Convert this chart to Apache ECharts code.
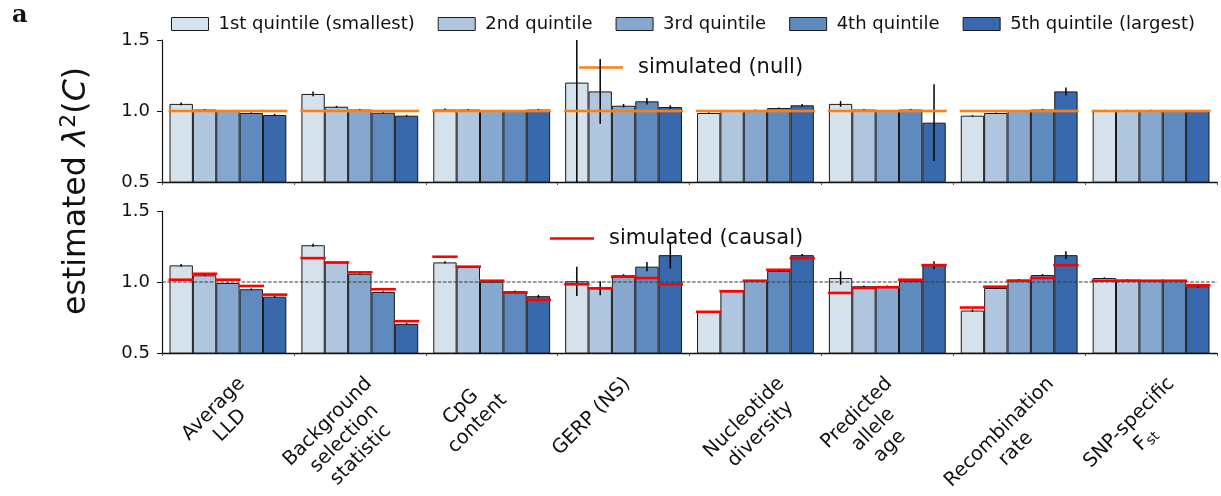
<!DOCTYPE html>
<html>
<head>
<meta charset="utf-8">
<script src="https://cdn.jsdelivr.net/npm/echarts@6/dist/echarts.min.js"></script>
<style>
  html, body { margin: 0; padding: 0; background: #fff; }
  #chart { width: 1221px; height: 496px; }
</style>
</head>
<body>
<div id="chart"></div>
<script>
// ---- data -------------------------------------------------------------
const categories = [
  'Average\nLLD',
  'Background\nselection\nstatistic',
  'CpG\ncontent',
  'GERP (NS)',
  'Nucleotide\ndiversity',
  'Predicted\nallele\nage',
  'Recombination\nrate',
  'SNP-specific\nF{sub|st}'
];
const quintileNames = [
  '1st quintile (smallest)',
  '2nd quintile',
  '3rd quintile',
  '4th quintile',
  '5th quintile (largest)'
];
const yTicks = [0.5, 1.0, 1.5];

// upper panel: estimates under the null, one row per quintile
const nullEstimate = [
  [1.050, 1.120, 1.010, 1.200, 0.986, 1.050, 0.967, 1.005],
  [1.010, 1.030, 1.010, 1.138, 1.000, 1.010, 0.986, 1.005],
  [1.000, 1.010, 1.000, 1.037, 1.007, 1.000, 1.000, 1.005],
  [0.986, 0.988, 1.000, 1.068, 1.021, 1.010, 1.010, 1.000],
  [0.972, 0.967, 1.010, 1.028, 1.040, 0.918, 1.138, 1.000]
];
const nullError = [
  [0.010, 0.017, 0.008, 0.750, 0.005, 0.020, 0.005, 0.004],
  [0.004, 0.006, 0.004, 0.228, 0.003, 0.004, 0.004, 0.004],
  [0.003, 0.004, 0.004, 0.012, 0.004, 0.004, 0.004, 0.004],
  [0.005, 0.004, 0.004, 0.023, 0.004, 0.005, 0.005, 0.004],
  [0.008, 0.006, 0.005, 0.012, 0.010, 0.270, 0.028, 0.006]
];
const nullSimulated = [
  [1.0, 1.0, 1.0, 1.0, 1.0, 1.0, 1.0, 1.0],
  [1.0, 1.0, 1.0, 1.0, 1.0, 1.0, 1.0, 1.0],
  [1.0, 1.0, 1.0, 1.0, 1.0, 1.0, 1.0, 1.0],
  [1.0, 1.0, 1.0, 1.0, 1.0, 1.0, 1.0, 1.0],
  [1.0, 1.0, 1.0, 1.0, 1.0, 1.0, 1.0, 1.0]
];

// lower panel: estimates under the causal model
const causalEstimate = [
  [1.117, 1.259, 1.138, 1.005, 0.790, 1.028, 0.799, 1.028],
  [1.047, 1.138, 1.105, 0.956, 0.935, 0.970, 0.958, 1.016],
  [0.993, 1.058, 1.002, 1.047, 1.009, 0.970, 1.016, 1.009],
  [0.949, 0.930, 0.935, 1.108, 1.079, 1.009, 1.049, 1.007],
  [0.897, 0.705, 0.900, 1.189, 1.189, 1.119, 1.189, 0.970]
];
const causalError = [
  [0.010, 0.010, 0.008, 0.103, 0.005, 0.047, 0.008, 0.005],
  [0.004, 0.004, 0.004, 0.050, 0.004, 0.005, 0.006, 0.004],
  [0.004, 0.004, 0.004, 0.008, 0.004, 0.005, 0.006, 0.004],
  [0.006, 0.005, 0.005, 0.032, 0.006, 0.005, 0.007, 0.004],
  [0.008, 0.008, 0.010, 0.094, 0.008, 0.028, 0.027, 0.008]
];
const causalSimulated = [
  [1.016, 1.168, 1.178, 0.984, 0.790, 0.923, 0.820, 1.009],
  [1.058, 1.138, 1.108, 0.956, 0.935, 0.958, 0.967, 1.009],
  [1.016, 1.068, 1.009, 1.037, 1.009, 0.963, 1.009, 1.009],
  [0.972, 0.949, 0.925, 1.028, 1.086, 1.016, 1.028, 1.009],
  [0.911, 0.724, 0.874, 0.984, 1.168, 1.119, 1.119, 0.977]
];

// ---- style ------------------------------------------------------------
const FONT = 'DejaVu Sans';
const quintileColors = ['#d5e2ec', '#b0c6de', '#86a8ce', '#5f8abe', '#3869ac'];
const NULL_COLOR = '#ff7f0e';
const CAUSAL_COLOR = '#ff0000';
const GAP = 0.114;           // fraction of each category left empty
const Y_MIN = yTicks[0], Y_MAX = yTicks[yTicks.length - 1];
// horizontal nudges of the rotated category labels (px from group centre)
const labelNudge = [-6, -15.5, -22.5, -32, -3, -14, -11.5, -13.5];
const LABEL_FONT_SIZE = 19.5;
const LABEL_TOP = 372.5;
const LABEL_LINE = 23.4;

const chart = echarts.init(document.getElementById('chart'), null, { renderer: 'canvas' });

function barGeom(api, cat, k) {
  const cx = api.coord([cat, Y_MIN])[0];
  const band = api.size([1, 0])[0];
  const bw = band * (1 - GAP) / quintileNames.length;
  const left = cx - bw * quintileNames.length / 2 + k * bw;
  return { left, bw };
}
const clampY = v => Math.min(Y_MAX, Math.max(Y_MIN, v));

function errRows(est, err) {
  const rows = [];
  est.forEach((arr, k) => arr.forEach((v, i) => rows.push([i, v, err[k][i], k])));
  return rows;
}
function simRows(sim) {
  const rows = [];
  sim.forEach((arr, k) => arr.forEach((v, i) => rows.push([i, v, k])));
  return rows;
}
function renderErr(params, api) {
  const cat = api.value(0), v = api.value(1), e = api.value(2), k = api.value(3);
  const g = barGeom(api, cat, k);
  const x = g.left + g.bw / 2;
  const y1 = api.coord([cat, clampY(v - e)])[1];
  const y2 = api.coord([cat, clampY(v + e)])[1];
  return { type: 'line', shape: { x1: x, y1, x2: x, y2 },
           style: { stroke: '#000', lineWidth: 1.5 } };
}
function makeSimRenderer(color) {
  return function (params, api) {
    const cat = api.value(0), v = api.value(1), k = api.value(2);
    const g = barGeom(api, cat, k);
    const y = api.coord([cat, v])[1];
    return { type: 'line', shape: { x1: g.left - 1, y1: y, x2: g.left + g.bw + 1, y2: y },
             style: { stroke: color, lineWidth: 2.6 } };
  };
}
function renderRefLine(params, api) {
  const cs = params.coordSys;
  const y = api.coord([0, 1.0])[1];
  return { type: 'line', shape: { x1: cs.x, y1: y, x2: cs.x + cs.width, y2: y },
           style: { stroke: '#3a3a3a', lineWidth: 1, lineDash: [3.7, 1.6] } };
}

const grids = [
  { left: 162, top: 40, width: 1055, height: 142 },
  { left: 162, top: 211, width: 1055, height: 142 }
];
const xAxes = grids.map((g, gi) => ({
  type: 'category', gridIndex: gi, data: categories, boundaryGap: true,
  axisLine: { show: true, lineStyle: { color: '#111', width: 1.4 } },
  axisTick: { show: true, length: 3, alignWithLabel: false, lineStyle: { color: '#333', width: 0.8 } },
  axisLabel: { show: false },
  splitLine: { show: false }
}));
const yAxes = grids.map((g, gi) => ({
  type: 'value', gridIndex: gi, min: Y_MIN, max: Y_MAX, interval: 0.5,
  axisLine: { show: true, lineStyle: { color: '#111', width: 1.2 } },
  axisTick: { show: true, length: 5, inside: false, lineStyle: { color: '#111', width: 1 } },
  axisLabel: { show: true, margin: 12, color: '#111', fontSize: 18, fontFamily: FONT,
               formatter: v => v.toFixed(1) },
  splitLine: { show: false }
}));

const series = [];
[nullEstimate, causalEstimate].forEach((est, gi) => {
  est.forEach((vals, k) => series.push({
    type: 'bar', name: quintileNames[k], xAxisIndex: gi, yAxisIndex: gi,
    data: vals, barGap: '0%', barCategoryGap: (GAP * 100) + '%',
    itemStyle: { color: quintileColors[k], borderColor: '#1a1a1a', borderWidth: 1 },
    z: 2, silent: true
  }));
});
series.push({
  type: 'custom', name: 'ref', xAxisIndex: 1, yAxisIndex: 1, z: 3, silent: true,
  renderItem: renderRefLine, data: [[0, 1.0]], encode: { x: 0, y: 1 }
});
series.push({
  type: 'custom', name: 'err-null', xAxisIndex: 0, yAxisIndex: 0, z: 4, silent: true,
  renderItem: renderErr, data: errRows(nullEstimate, nullError), encode: { x: 0, y: 1 }
});
series.push({
  type: 'custom', name: 'err-causal', xAxisIndex: 1, yAxisIndex: 1, z: 4, silent: true,
  renderItem: renderErr, data: errRows(causalEstimate, causalError), encode: { x: 0, y: 1 }
});
series.push({
  type: 'custom', name: 'simulated (null)', xAxisIndex: 0, yAxisIndex: 0, z: 5, silent: true,
  itemStyle: { color: NULL_COLOR },
  renderItem: makeSimRenderer(NULL_COLOR), data: simRows(nullSimulated), encode: { x: 0, y: 1 }
});
series.push({
  type: 'custom', name: 'simulated (causal)', xAxisIndex: 1, yAxisIndex: 1, z: 5, silent: true,
  itemStyle: { color: CAUSAL_COLOR },
  renderItem: makeSimRenderer(CAUSAL_COLOR), data: simRows(causalSimulated), encode: { x: 0, y: 1 }
});

const legendText = { fontSize: 18, fontFamily: FONT, color: '#111', padding: [0, 0, 0, 5] };
const simLegendText = { fontSize: 21, fontFamily: FONT, color: '#111', padding: [0, 0, 0, 10] };
const option = {
  animation: false,
  backgroundColor: '#fff',
  grid: grids,
  xAxis: xAxes,
  yAxis: yAxes,
  legend: [
    {
      data: quintileNames, left: 171, top: 15, padding: 0, orient: 'horizontal',
      icon: 'rect', itemWidth: 37, itemHeight: 13, itemGap: 23, selectedMode: false,
      itemStyle: { borderColor: '#1a1a1a', borderWidth: 1 },
      textStyle: legendText
    },
    {
      data: [{ name: 'simulated (null)', itemStyle: { color: NULL_COLOR, borderWidth: 0 } }],
      left: 579, top: 57, padding: 0, icon: 'rect', itemWidth: 44, itemHeight: 2.6,
      selectedMode: false, textStyle: simLegendText
    },
    {
      data: [{ name: 'simulated (causal)', itemStyle: { color: CAUSAL_COLOR, borderWidth: 0 } }],
      left: 550, top: 228, padding: 0, icon: 'rect', itemWidth: 44, itemHeight: 2.6,
      selectedMode: false, textStyle: simLegendText
    }
  ],
  series
};
chart.setOption(option);

// ---- rotated category labels, y title and panel letter ----------------
const measure = document.createElement('canvas').getContext('2d');
measure.font = LABEL_FONT_SIZE + 'px "' + FONT + '"';
const plain = s => s.replace(/\{\w+\|([^}]*)\}/g, '$1');

const graphics = categories.map((text, i) => {
  const lines = text.split('\n');
  const w = Math.max(...lines.map(l => measure.measureText(plain(l)).width));
  const h = lines.length * LABEL_LINE;
  const cx = chart.convertToPixel({ xAxisIndex: 1 }, i) + labelNudge[i];
  const cy = LABEL_TOP + (w + h) / (2 * Math.SQRT2);
  return {
    type: 'text', x: cx, y: cy, rotation: Math.PI / 4, silent: true,
    style: {
      text, fill: '#111', fontSize: LABEL_FONT_SIZE, fontFamily: FONT, lineHeight: LABEL_LINE,
      align: 'center', verticalAlign: 'middle',
      rich: { sub: { fontSize: 14, lineHeight: 14, verticalAlign: 'bottom', fontFamily: FONT, fill: '#111' } }
    }
  };
});
graphics.push({
  type: 'text', x: 77, y: 191, rotation: Math.PI / 2, silent: true,
  style: {
    text: 'estimated {it|λ}{sup|2}({it|C})',
    fill: '#111', fontSize: 31.5, fontFamily: FONT, lineHeight: 38,
    align: 'center', verticalAlign: 'middle',
    rich: {
      it: { fontStyle: 'italic', fontSize: 31.5, lineHeight: 38, fontFamily: FONT, fill: '#111' },
      sup: { fontSize: 22, lineHeight: 22, verticalAlign: 'top', fontFamily: FONT, fill: '#111' }
    }
  }
});
graphics.push({
  type: 'text', x: 12, y: 16, silent: true,
  style: { text: 'a', fill: '#111', fontSize: 24, fontWeight: 'bold', fontFamily: 'DejaVu Serif',
           align: 'left', verticalAlign: 'middle' }
});
chart.setOption({ graphic: graphics });
</script>
</body>
</html>
